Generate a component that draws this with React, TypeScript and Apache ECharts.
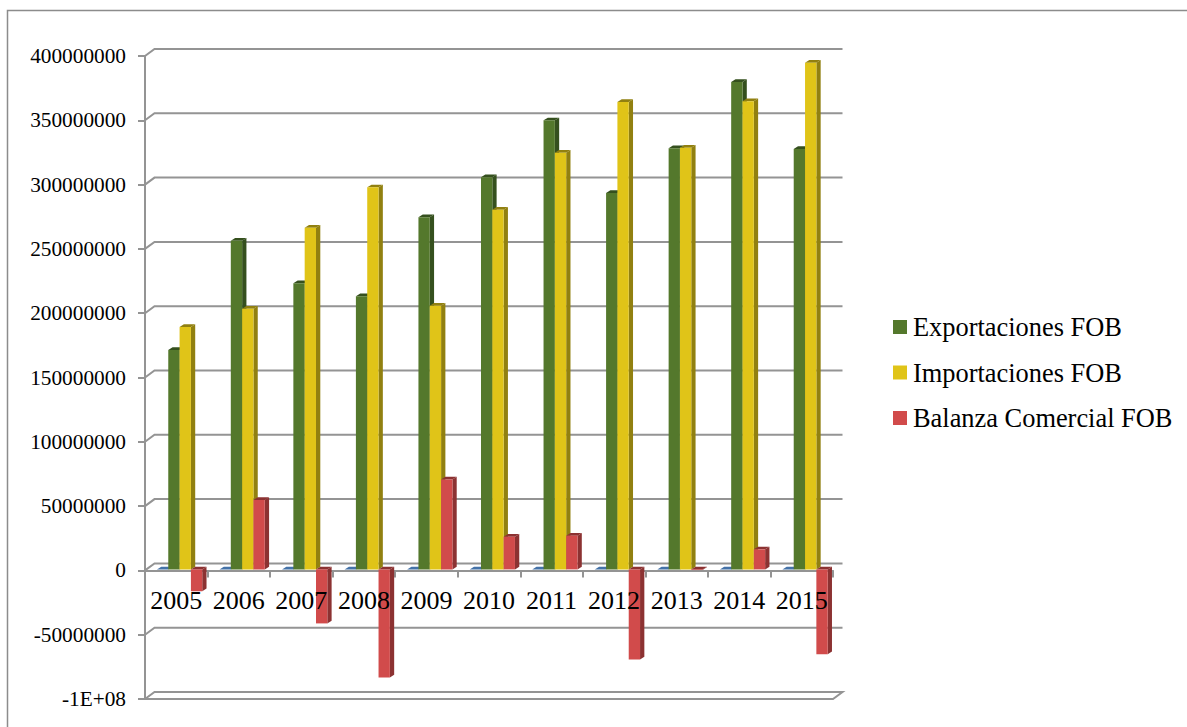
import React, { useEffect, useRef } from "react";
import * as echarts from "echarts";

const years = ["2005", "2006", "2007", "2008", "2009", "2010", "2011", "2012", "2013", "2014", "2015"];
const hiddenSeries = [0, 0, 0, 0, 0, 0, 0, 0, 0, 0, 0];
const exportaciones = [170600000, 255600000, 222500000, 212400000, 273800000, 304900000, 349200000, 292700000, 327500000, 379000000, 326900000];
const importaciones = [188500000, 202700000, 265700000, 297100000, 205000000, 279700000, 324000000, 363500000, 327900000, 364000000, 394000000];
const balanza = [-17000000, 54000000, -42000000, -84000000, 70000000, 25400000, 26200000, -70000000, -500000, 15600000, -66000000];
const yTicks = [-100000000, -50000000, 0, 50000000, 100000000, 150000000, 200000000, 250000000, 300000000, 350000000, 400000000];

const FONT = "Liberation Serif";
const GREY = "#949494";

const barSeries = (name: string, values: number[], slot: number, front: string, side: string) => ({
  name,
  type: "custom",
  z: 2,
  silent: true,
  itemStyle: { color: front },
  encode: { x: 0, y: 1 },
  data: values.map((v, i) => [i, v]),
  clip: false,
  renderItem: (_p: any, api: any) => {
    const i = api.value(0);
    const [cx, yv] = api.coord([i, api.value(1)]);
    const y0 = api.coord([i, 0])[1];
    const band = api.size([1, 0])[0];
    const w = band * 0.181;
    const x = cx + band * (-0.309 + 0.181 * slot);
    const top = Math.min(yv, y0) - 1;
    const bottom = Math.max(yv, y0) - 1;
    const dx = 4.3;
    const dy = 2.7;
    return {
      type: "group",
      children: [
        { type: "polygon", shape: { points: [[x + w, top], [x + w + dx, top - dy], [x + w + dx, bottom - dy], [x + w, bottom]] }, style: { fill: side } },
        { type: "polygon", shape: { points: [[x, top], [x + dx, top - dy], [x + w + dx, top - dy], [x + w, top]] }, style: { fill: side } },
        { type: "rect", shape: { x, y: top, width: w, height: bottom - top }, style: { fill: front } },
      ],
    };
  },
});

const gridSeries = {
  name: "grid3d",
  type: "custom",
  z: 1,
  silent: true,
  encode: { x: 0, y: 1 },
  data: yTicks.map((v) => [0, v]),
  clip: false,
  renderItem: (p: any, api: any) => {
    const v = api.value(1);
    const y = api.coord([0, v])[1];
    const left = p.coordSys.x;
    const right = left + p.coordSys.width;
    const dx = 9.5;
    const dy = 7;
    const pts =
      v === yTicks[0]
        ? [[left, y], [right, y], [right + dx, y - dy], [left + dx, y - dy], [left, y]]
        : [[left, y], [left + dx, y - dy], [right + dx, y - dy]];
    return {
      type: "polyline",
      shape: { points: pts },
      style: { fill: "none", stroke: GREY, lineWidth: 2 },
    };
  },
};

export default function App() {
  const ref = useRef<HTMLDivElement>(null);
  useEffect(() => {
    if (!ref.current) return;
    const chart = echarts.init(ref.current, undefined, { renderer: "svg" });
    chart.setOption({
      animation: false,
      backgroundColor: "#fff",
      textStyle: { fontFamily: FONT },
      grid: { left: 145, top: 56, width: 688, height: 643 },
      legend: {
        data: ["Exportaciones FOB", "Importaciones FOB", "Balanza Comercial FOB"],
        orient: "vertical",
        left: 893,
        top: 312,
        padding: 0,
        itemWidth: 14,
        itemHeight: 14,
        itemGap: 15.5,
        icon: "rect",
        selectedMode: false,
        textStyle: { fontFamily: FONT, fontSize: 26.4, color: "#000", padding: [0, 0, 0, 1], lineHeight: 30 },
      },
      xAxis: [
        {
          type: "category",
          data: years,
          axisLine: { onZero: true, lineStyle: { color: GREY, width: 2 } },
          axisTick: { show: true, length: 7, alignWithLabel: false, lineStyle: { color: GREY, width: 2 } },
          axisLabel: { show: false },
          splitLine: { show: false },
        },
        {
          type: "category",
          data: years,
          position: "bottom",
          offset: -128.6,
          z: 10,
          axisLine: { show: false, onZero: false },
          axisTick: { show: false },
          axisLabel: { show: true, interval: 0, margin: 17, color: "#000", fontFamily: FONT, fontSize: 26 },
          splitLine: { show: false },
        },
      ],
      yAxis: {
        type: "value",
        min: yTicks[0],
        max: yTicks[yTicks.length - 1],
        interval: 50000000,
        axisLine: { show: true, onZero: false, lineStyle: { color: GREY, width: 2 } },
        axisTick: { show: true, length: 7, lineStyle: { color: GREY, width: 2 } },
        axisLabel: {
          margin: 19,
          color: "#000",
          fontFamily: FONT,
          fontSize: 21.3,
          formatter: (v: number) => (v === -100000000 ? "-1E+08" : String(v)),
        },
        splitLine: { show: false },
      },
      series: [
        gridSeries,
        barSeries("Serie", hiddenSeries, 0, "#4472a8", "#4472a8"),
        barSeries("Exportaciones FOB", exportaciones, 1, "#54782c", "#35501e"),
        barSeries("Importaciones FOB", importaciones, 2, "#e0c418", "#918010"),
        barSeries("Balanza Comercial FOB", balanza, 3, "#d14b4b", "#8c3232"),
      ],
      graphic: [
        {
          type: "polyline",
          silent: true,
          shape: { points: [[7.5, 727], [7.5, 10.5], [1187, 10.5]] },
          style: { fill: "none", stroke: "#8c8c8c", lineWidth: 1.5 },
        },
      ],
    });
    return () => chart.dispose();
  }, []);
  return <div ref={ref} style={{ position: "fixed", left: 0, top: 0, width: 1187, height: 727 }} />;
}
